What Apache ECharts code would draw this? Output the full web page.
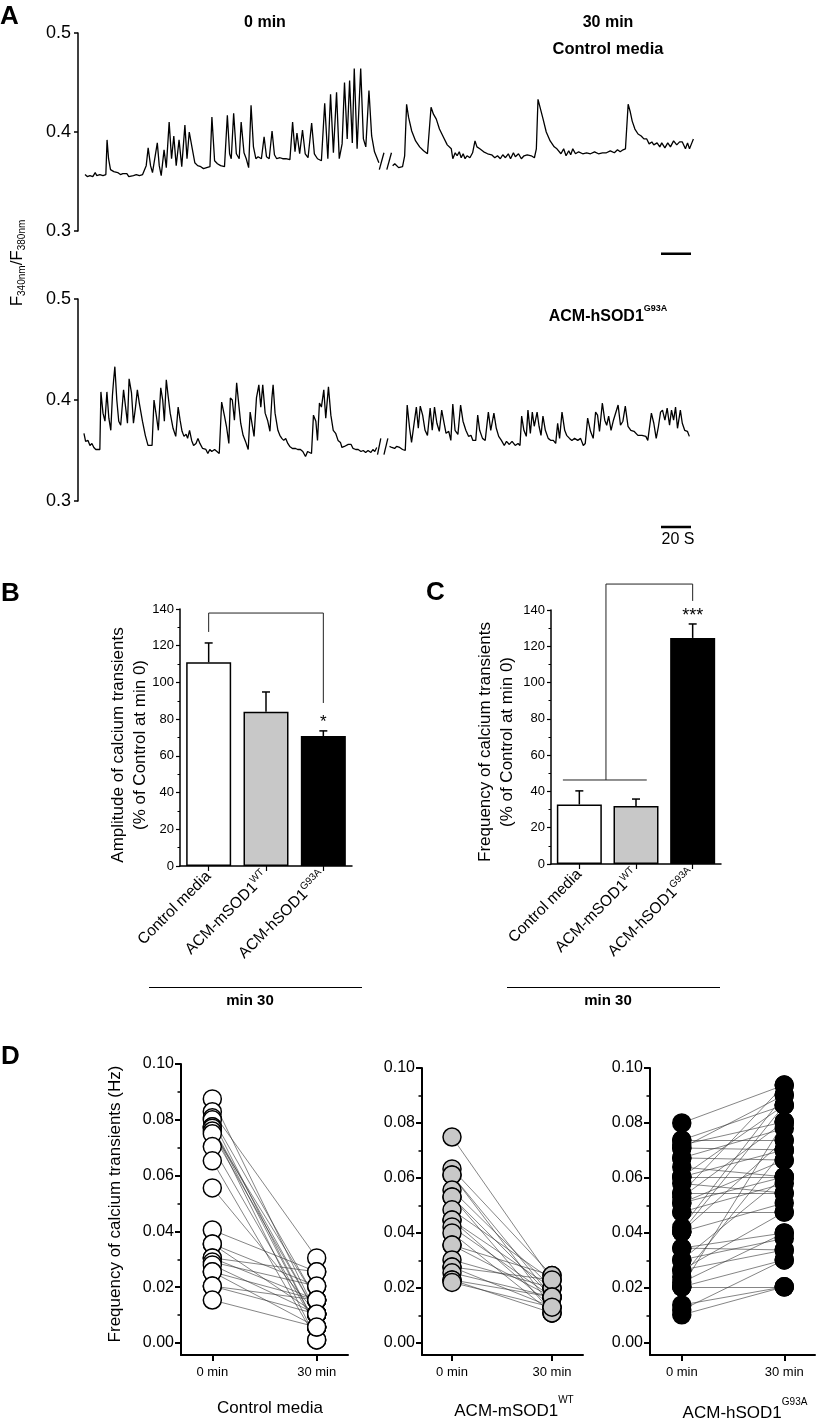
<!DOCTYPE html>
<html><head><meta charset="utf-8">
<script src="https://cdn.jsdelivr.net/npm/echarts@6/dist/echarts.min.js"></script>
<style>html,body{margin:0;padding:0;background:#fff}#c{width:817px;height:1424px}</style>
</head><body><div id="c"></div>
<script>
const F = "'Liberation Sans', Arial, Helvetica, sans-serif";

// ---------- Panel A: traces [time s, F340/F380] ----------
const topTrace0 = [[0,0.357],[1.5,0.355],[3.3,0.356],[5.2,0.355],[6.8,0.359],[7.8,0.356],[9.9,0.357],[12.0,0.356],[13.9,0.357],[14.7,0.392],[15.7,0.373],[17.0,0.362],[19.2,0.360],[21.8,0.359],[23.6,0.357],[25.2,0.358],[26.5,0.356],[27.9,0.358],[29.2,0.355],[30.5,0.357],[32.3,0.356],[34.2,0.357],[36.3,0.356],[38.4,0.357],[39.7,0.359],[40.8,0.366],[42.1,0.384],[43.7,0.366],[45.0,0.359],[46.3,0.358],[48.2,0.389],[49.5,0.366],[50.8,0.356],[52.7,0.382],[54.2,0.364],[56.1,0.410],[57.7,0.373],[59.2,0.396],[60.8,0.366],[62.7,0.392],[64.5,0.365],[66.6,0.407],[68.0,0.373],[69.5,0.400],[71.4,0.384],[73.2,0.369],[75.1,0.366],[77.2,0.365],[79.0,0.363],[81.1,0.364],[83.3,0.365],[84.6,0.415],[86.4,0.371],[88.3,0.368],[90.4,0.366],[93.0,0.365],[94.9,0.417],[96.4,0.378],[97.5,0.373],[99.1,0.419],[100.9,0.378],[102.8,0.373],[104.1,0.410],[106.0,0.379],[107.5,0.373],[109.1,0.364],[110.7,0.427],[112.3,0.385],[113.9,0.373],[115.4,0.375],[117.6,0.373],[119.4,0.395],[121.0,0.375],[122.8,0.373],[124.7,0.401],[126.3,0.377],[127.8,0.373],[130.0,0.374],[131.8,0.373],[133.9,0.373],[136.6,0.372],[138.4,0.410],[140.0,0.380],[141.3,0.399],[143.1,0.378],[145.0,0.402],[146.8,0.378],[148.7,0.374],[151.1,0.409],[152.9,0.378],[155.0,0.373],[157.6,0.371],[159.8,0.429],[161.9,0.373],[163.7,0.438],[165.6,0.379],[167.7,0.440],[169.5,0.373],[171.4,0.388],[173.0,0.450],[174.8,0.393],[176.4,0.452],[178.2,0.389],[179.5,0.464],[181.4,0.383],[183.8,0.464],[185.6,0.393],[187.2,0.385],[189.3,0.442],[191.1,0.396],[193.0,0.380],[194.6,0.374],[195.9,0.369]];
const topTrace30 = [[205.1,0.366],[206.5,0.368],[207.8,0.366],[209.1,0.364],[210.4,0.366],[211.7,0.365],[213.1,0.376],[214.4,0.428],[215.7,0.415],[217.8,0.401],[220.4,0.391],[223.1,0.385],[225.7,0.381],[228.3,0.378],[229.4,0.376],[230.7,0.425],[232.3,0.418],[234.2,0.413],[236.3,0.403],[238.9,0.395],[241.5,0.387],[244.2,0.383],[245.2,0.373],[246.8,0.379],[248.1,0.376],[249.5,0.380],[250.8,0.374],[252.1,0.378],[253.4,0.373],[254.7,0.376],[256.6,0.374],[258.4,0.379],[260.0,0.391],[261.3,0.385],[263.2,0.383],[265.8,0.380],[268.4,0.378],[271.1,0.377],[273.2,0.374],[275.0,0.376],[276.9,0.373],[278.5,0.377],[280.3,0.374],[282.2,0.378],[283.7,0.373],[285.6,0.379],[286.9,0.375],[289.0,0.378],[290.9,0.373],[292.7,0.376],[294.8,0.377],[297.5,0.376],[299.6,0.374],[300.9,0.383],[302.0,0.433],[303.3,0.432],[305.4,0.413],[307.5,0.400],[308.5,0.401],[310.1,0.391],[311.4,0.393],[312.8,0.385],[314.6,0.383],[315.9,0.384],[317.3,0.378],[319.1,0.383],[320.7,0.376],[322.5,0.381],[323.8,0.377],[325.2,0.383],[327.0,0.378],[329.1,0.380],[331.8,0.378],[334.4,0.379],[337.0,0.378],[339.7,0.380],[342.3,0.378],[345.0,0.379],[347.6,0.379],[350.2,0.381],[352.9,0.379],[355.0,0.382],[356.8,0.380],[358.7,0.382],[360.3,0.383],[362.1,0.428],[363.4,0.421],[364.8,0.411],[366.6,0.403],[368.7,0.398],[370.8,0.396],[372.6,0.393],[374.5,0.393],[376.1,0.388],[377.9,0.390],[379.2,0.387],[381.4,0.389],[383.2,0.385],[384.5,0.389],[386.6,0.384],[388.5,0.389],[390.3,0.385],[392.4,0.391],[394.5,0.387],[396.4,0.390],[398.2,0.390],[400.3,0.383],[401.7,0.389],[403.0,0.383],[404.3,0.388],[405.6,0.393]];
const botTrace0 = [[-0.7,0.367],[0.4,0.359],[2.0,0.360],[3.3,0.355],[4.6,0.357],[5.9,0.353],[7.2,0.351],[8.5,0.350],[9.9,0.351],[10.6,0.408],[12.0,0.387],[13.3,0.379],[14.6,0.408],[15.9,0.382],[17.2,0.370],[18.3,0.405],[19.1,0.420],[19.9,0.433],[21.2,0.400],[22.5,0.379],[23.8,0.375],[25.7,0.410],[27.3,0.390],[28.3,0.377],[29.4,0.421],[31.0,0.407],[32.3,0.377],[33.6,0.392],[34.9,0.410],[36.2,0.397],[38.3,0.379],[40.2,0.365],[42.0,0.355],[44.7,0.355],[46.0,0.400],[47.6,0.384],[48.9,0.370],[50.5,0.412],[51.8,0.400],[52.9,0.379],[54.2,0.420],[55.5,0.403],[56.8,0.387],[58.7,0.372],[60.5,0.364],[62.1,0.393],[63.4,0.380],[64.7,0.369],[66.0,0.364],[67.4,0.366],[68.4,0.362],[69.7,0.370],[71.1,0.360],[72.4,0.355],[74.0,0.357],[75.3,0.362],[76.6,0.357],[78.4,0.352],[80.6,0.351],[81.9,0.347],[83.2,0.351],[84.5,0.349],[86.4,0.351],[87.7,0.350],[89.5,0.347],[90.6,0.346],[91.1,0.398],[93.0,0.384],[94.3,0.374],[95.9,0.357],[96.9,0.402],[98.2,0.400],[99.6,0.380],[101.1,0.417],[102.7,0.393],[103.8,0.377],[105.4,0.365],[107.0,0.359],[108.8,0.351],[110.1,0.388],[111.4,0.388],[112.7,0.364],[114.3,0.402],[115.9,0.415],[117.2,0.393],[118.5,0.415],[120.1,0.387],[121.7,0.380],[123.3,0.369],[124.6,0.402],[125.4,0.415],[126.7,0.387],[128.6,0.370],[129.9,0.365],[131.2,0.362],[132.5,0.360],[133.8,0.362],[135.2,0.357],[136.5,0.354],[138.3,0.352],[140.4,0.352],[141.8,0.351],[143.6,0.351],[145.2,0.349],[147.0,0.344],[148.4,0.349],[149.7,0.348],[151.0,0.347],[152.3,0.385],[153.9,0.379],[155.0,0.360],[156.3,0.397],[157.6,0.393],[159.2,0.410],[160.5,0.382],[162.3,0.413],[163.9,0.385],[165.5,0.370],[167.1,0.367],[168.7,0.360],[170.3,0.358],[171.3,0.353],[172.9,0.354],[174.0,0.353],[175.5,0.356],[177.4,0.356],[178.7,0.352],[180.5,0.351],[182.1,0.351],[184.0,0.349],[185.5,0.350],[187.1,0.348],[188.7,0.350],[190.6,0.348],[191.9,0.351],[193.2,0.349],[194.5,0.353]];
const botTrace30 = [[203.0,0.354],[204.5,0.353],[206.4,0.352],[207.7,0.354],[209.8,0.353],[211.7,0.351],[213.5,0.350],[214.8,0.395],[216.4,0.372],[217.7,0.358],[219.6,0.379],[220.9,0.393],[222.2,0.372],[223.5,0.394],[225.1,0.385],[226.7,0.370],[228.3,0.365],[230.1,0.392],[231.5,0.370],[233.0,0.393],[234.6,0.377],[236.2,0.369],[237.8,0.390],[239.4,0.377],[240.7,0.367],[242.5,0.369],[243.9,0.360],[245.2,0.396],[246.7,0.370],[248.6,0.366],[250.4,0.395],[252.0,0.379],[253.9,0.370],[255.7,0.364],[257.3,0.365],[258.6,0.360],[260.5,0.360],[261.8,0.385],[263.1,0.370],[265.0,0.362],[266.8,0.360],[268.9,0.388],[270.5,0.370],[271.3,0.370],[272.6,0.387],[274.2,0.372],[275.8,0.364],[277.6,0.360],[279.5,0.355],[281.0,0.359],[282.9,0.356],[284.7,0.359],[286.8,0.355],[288.7,0.357],[290.0,0.355],[291.1,0.384],[292.6,0.370],[294.2,0.364],[295.3,0.390],[296.9,0.367],[298.2,0.388],[299.5,0.374],[301.4,0.388],[302.7,0.374],[304.0,0.365],[305.3,0.384],[306.9,0.370],[308.8,0.362],[310.6,0.360],[312.2,0.360],[313.8,0.357],[315.1,0.377],[316.4,0.362],[318.0,0.388],[319.8,0.370],[321.1,0.365],[323.0,0.362],[324.6,0.360],[326.4,0.362],[328.5,0.360],[330.4,0.362],[332.2,0.355],[333.5,0.357],[335.1,0.382],[337.0,0.369],[338.8,0.362],[340.4,0.388],[341.7,0.385],[343.0,0.369],[344.9,0.397],[346.5,0.380],[347.8,0.375],[349.1,0.384],[350.7,0.370],[352.3,0.380],[353.6,0.379],[355.4,0.395],[357.0,0.375],[358.6,0.379],[360.2,0.394],[362.0,0.374],[363.9,0.370],[366.0,0.369],[368.6,0.365],[371.3,0.365],[373.9,0.364],[375.2,0.360],[376.5,0.359],[377.6,0.387],[379.2,0.377],[380.8,0.362],[382.3,0.374],[383.7,0.388],[385.0,0.390],[386.6,0.380],[388.1,0.392],[389.7,0.375],[391.0,0.390],[392.4,0.380],[393.7,0.393],[395.0,0.372],[396.9,0.390],[398.2,0.377],[399.8,0.370],[401.6,0.369],[402.9,0.364]];
const topBreaks = [[[196.2,0.362],[199.3,0.379]],[[201.2,0.362],[204.3,0.379]]];
const botBreaks = [[[195.0,0.346],[197.2,0.362]],[[199.3,0.346],[201.9,0.362]]];
const scaleBarT = [384, 404];
const topScaleV = 0.277, botScaleV = 0.2743;
const aTicks = [0.3, 0.4, 0.5];

// ---------- Panels B, C ----------
const catLabels = ['Control media', 'ACM-mSOD1', 'ACM-hSOD1'];
const catSup = ['', 'WT', 'G93A'];
const barColors = ['#ffffff', '#c8c8c8', '#000000'];
const ampMean = [111, 84, 70.8];
const ampSem = [10.5, 10.8, 2.8];
const freqMean = [32.8, 32, 124.6];
const freqSem = [7.5, 3.8, 7.7];
const ampBracket = [[0,127.5],[0,137.8],[2,137.8],[2,88.8]];
const freqBracketLow = [[-0.29,46.3],[1.19,46.3]];
const freqBracket = [[0.47,46.3],[0.47,154.3],[2,154.3],[2,145]];

// ---------- Panel D: paired [0 min, 30 min] frequencies (Hz) ----------
const timeLabels = ['0 min', '30 min'];
const dMajor = [0, 0.02, 0.04, 0.06, 0.08, 0.1];
const dMinor = [0.01, 0.03, 0.05, 0.07, 0.09];
const ctrlPairs = [[0.0875,0.0104],[0.0829,0.0305],[0.0807,0.0154],[0.0800,0.0057],[0.0775,0.0104],[0.0775,0.0057],[0.0770,0.0011],[0.0760,0.0154],[0.0750,0.0104],[0.0704,0.0057],[0.0653,0.0011],[0.0556,0.0104],[0.0405,0.0255],[0.0355,0.0204],[0.0355,0.0104],[0.0305,0.0255],[0.0305,0.0154],[0.0290,0.0204],[0.0280,0.0104],[0.0255,0.0154],[0.0255,0.0057],[0.0204,0.0154],[0.0204,0.0104],[0.0154,0.0057]];
const wtPairs = [[0.0749,0.0229],[0.0633,0.0245],[0.0611,0.0167],[0.0611,0.0130],[0.0556,0.0200],[0.0531,0.0167],[0.0531,0.0109],[0.0484,0.0229],[0.0447,0.0200],[0.0447,0.0130],[0.0422,0.0167],[0.0400,0.0109],[0.0356,0.0245],[0.0356,0.0167],[0.0302,0.0200],[0.0276,0.0130],[0.0276,0.0229],[0.0255,0.0167],[0.0229,0.0109],[0.0229,0.0167],[0.0220,0.0130]];
const g93aPairs = [[0.0800,0.0938],[0.0738,0.0865],[0.0738,0.0738],[0.0720,0.0804],[0.0709,0.0702],[0.0709,0.0902],[0.0673,0.0665],[0.0673,0.0780],[0.0640,0.0604],[0.0604,0.0604],[0.0604,0.0865],[0.0604,0.0702],[0.0580,0.0545],[0.0545,0.0938],[0.0545,0.0545],[0.0530,0.0804],[0.0509,0.0604],[0.0509,0.0665],[0.0476,0.0476],[0.0476,0.0580],[0.0420,0.0902],[0.0404,0.0738],[0.0404,0.0865],[0.0404,0.0509],[0.0345,0.0338],[0.0345,0.0400],[0.0302,0.0380],[0.0302,0.0604],[0.0265,0.0476],[0.0265,0.0338],[0.0240,0.0702],[0.0220,0.0400],[0.0204,0.0204],[0.0204,0.0302],[0.0204,0.0804],[0.0138,0.0204],[0.0102,0.0204],[0.0120,0.0302]];

// ---------- builders ----------
const BLK = '#000';
function traceX(g){ return {gridIndex:g, type:'value', min:-4.67, max:406, show:false}; }
function traceY(g){ return {gridIndex:g, type:'value', min:0.3, max:0.5,
  axisLine:{show:true, onZero:false, lineStyle:{color:BLK, width:1.5}},
  axisTick:{show:true, customValues:aTicks, length:4, lineStyle:{color:BLK, width:1.5}},
  axisLabel:{customValues:aTicks, formatter:v=>v.toFixed(1), fontSize:18, color:BLK, fontFamily:F, margin:7},
  splitLine:{show:false}}; }
const catRich = {
  n:{fontSize:15.5, color:BLK, fontFamily:F, lineHeight:20},
  s:{fontSize:10, color:BLK, fontFamily:F, lineHeight:11, verticalAlign:'top'}
};
function catFmt(v){ const i = Math.round(v); return '{n|' + catLabels[i] + '}' + (catSup[i] ? '{s|' + catSup[i] + '}' : ''); }
function barX(g){ return {gridIndex:g, type:'value', min:-0.5, max:2.5,
  axisLine:{show:true, onZero:false, lineStyle:{color:BLK, width:1.5}},
  axisTick:{show:true, customValues:[0,1,2], length:5, lineStyle:{color:BLK, width:1.2}},
  axisLabel:{customValues:[0,1,2], rotate:45, margin:8, formatter:catFmt, rich:catRich, fontSize:15.5, color:BLK, fontFamily:F},
  splitLine:{show:false}}; }
function barY(g){ return {gridIndex:g, type:'value', min:0, max:140, interval:20,
  axisLine:{show:true, onZero:false, lineStyle:{color:BLK, width:1.5}},
  axisTick:{show:true, length:4, lineStyle:{color:BLK, width:1.2}},
  minorTick:{show:true, splitNumber:2, length:2.5, lineStyle:{color:BLK, width:1}},
  axisLabel:{fontSize:13, color:BLK, fontFamily:F, margin:6},
  splitLine:{show:false}, minorSplitLine:{show:false}}; }
function dX(g, min, max){ return {gridIndex:g, type:'value', min, max,
  axisLine:{show:true, onZero:false, lineStyle:{color:BLK, width:2}},
  axisTick:{show:true, customValues:[0,1], length:6, lineStyle:{color:BLK, width:2}},
  axisLabel:{customValues:[0,1], formatter:v=>timeLabels[Math.round(v)], fontSize:13, color:BLK, fontFamily:F, margin:11},
  splitLine:{show:false}}; }
function dY(g, min){ return {gridIndex:g, type:'value', min, max:0.1, position:'left',
  axisLine:{show:true, onZero:false, lineStyle:{color:BLK, width:2}},
  axisTick:{show:true, customValues:dMajor, length:6, lineStyle:{color:BLK, width:2}},
  axisLabel:{customValues:dMajor, formatter:v=>v.toFixed(2), fontSize:16, color:BLK, fontFamily:F, margin:7},
  splitLine:{show:false}}; }
function dYminor(g, min){ return {gridIndex:g, type:'value', min, max:0.1, position:'left', offset:0,
  axisLine:{show:false, onZero:false},
  axisTick:{show:true, customValues:dMinor, length:3.5, lineStyle:{color:BLK, width:1.5}},
  axisLabel:{show:false}, splitLine:{show:false}}; }

function traceSeries(xi, yi, data, w){ return {type:'line', xAxisIndex:xi, yAxisIndex:yi, data, symbol:'none', silent:true, clip:false,
  lineStyle:{color:BLK, width:w||1.3}}; }
function barSeries(xi, yi, means){ return {type:'bar', xAxisIndex:xi, yAxisIndex:yi, barWidth:45, silent:true,
  data: means.map((m,i)=>({value:[i,m], itemStyle:{color:barColors[i], borderColor:BLK, borderWidth:1.5}}))}; }
function errSeries(xi, yi, means, sems){ return {type:'custom', xAxisIndex:xi, yAxisIndex:yi, silent:true, z:3,
  data: means.map((m,i)=>[i, m, m + sems[i]]),
  renderItem(params, api){
    const x = api.value(0);
    const p0 = api.coord([x, api.value(1)]), p1 = api.coord([x, api.value(2)]);
    return {type:'group', children:[
      {type:'line', shape:{x1:p0[0], y1:p0[1], x2:p1[0], y2:p1[1]}, style:{stroke:BLK, lineWidth:1.5}},
      {type:'line', shape:{x1:p1[0]-4, y1:p1[1], x2:p1[0]+4, y2:p1[1]}, style:{stroke:BLK, lineWidth:1.5}}
    ]};
  }}; }
// significance marks drawn as text at data coordinates via a custom series
function starSeries(xi, yi, pos, text, size){ return {type:'custom', xAxisIndex:xi, yAxisIndex:yi, silent:true, z:5, clip:false,
  data:[pos],
  renderItem(params, api){
    const p = api.coord([api.value(0), api.value(1)]);
    return {type:'text', x:p[0], y:p[1], style:{text, fill:BLK, fontSize:size, fontFamily:F, align:'center', verticalAlign:'middle'}};
  }}; }
function dLines(xi, yi, pairs){ return {type:'lines', coordinateSystem:'cartesian2d', xAxisIndex:xi, yAxisIndex:yi, z:1, silent:true,
  lineStyle:{color:'#333', width:0.6, opacity:1},
  data: pairs.map(p=>({coords:[[0,p[0]],[1,p[1]]]}))}; }
function dDots(xi, yi, pairs, fill){ const pts = [];
  pairs.forEach(p=>{ pts.push([0,p[0]]); pts.push([1,p[1]]); });
  return {type:'scatter', xAxisIndex:xi, yAxisIndex:yi, z:3, silent:true, clip:false, symbol:'circle', symbolSize:18,
    itemStyle:{color:fill, borderColor:BLK, borderWidth:1.5, opacity:1}, data:pts}; }

const series = [
  traceSeries(0,0,topTrace0), traceSeries(0,0,topTrace30),
  traceSeries(1,1,botTrace0), traceSeries(1,1,botTrace30),
  ...topBreaks.map(b=>traceSeries(0,0,b)), ...botBreaks.map(b=>traceSeries(1,1,b)),
  traceSeries(0,0,[[scaleBarT[0],topScaleV],[scaleBarT[1],topScaleV]],2.5),
  traceSeries(1,1,[[scaleBarT[0],botScaleV],[scaleBarT[1],botScaleV]],2.5),
  barSeries(2,2,ampMean), errSeries(2,2,ampMean,ampSem),
  {type:'line', xAxisIndex:2, yAxisIndex:2, data:ampBracket, symbol:'none', silent:true, clip:false, lineStyle:{color:'#222', width:1}},
  starSeries(2,2,[2,78.5],'*',17),
  barSeries(3,3,freqMean), errSeries(3,3,freqMean,freqSem),
  {type:'line', xAxisIndex:3, yAxisIndex:3, data:freqBracketLow, symbol:'none', silent:true, clip:false, lineStyle:{color:'#222', width:1}},
  {type:'line', xAxisIndex:3, yAxisIndex:3, data:freqBracket, symbol:'none', silent:true, clip:false, lineStyle:{color:'#222', width:1}},
  starSeries(3,3,[2,136.7],'***',18),
  dLines(4,4,ctrlPairs), dDots(4,4,ctrlPairs,'#ffffff'),
  dLines(5,6,wtPairs), dDots(5,6,wtPairs,'#c8c8c8'),
  dLines(6,8,g93aPairs), dDots(6,8,g93aPairs,'#000000')
];

function T(x, y, text, style, extra){ return Object.assign({type:'text', x, y, silent:true, z:10,
  style:Object.assign({text, fill:BLK, fontFamily:F, fontSize:15, align:'center', verticalAlign:'middle'}, style||{})}, extra||{}); }
const supRich = (n, s, nl, sl, bold) => ({
  n:{fontSize:n, fontFamily:F, fill:BLK, lineHeight:nl, fontWeight:bold?'bold':'normal'},
  s:{fontSize:s, fontFamily:F, fill:BLK, lineHeight:sl, verticalAlign:'top', fontWeight:bold?'bold':'normal'}
});
const graphics = [
  T(0, 17, 'A', {fontSize:26, fontWeight:'bold', align:'left'}),
  T(1, 594, 'B', {fontSize:26, fontWeight:'bold', align:'left'}),
  T(426, 593, 'C', {fontSize:26, fontWeight:'bold', align:'left'}),
  T(1, 1057, 'D', {fontSize:26, fontWeight:'bold', align:'left'}),
  T(265, 23, '0 min', {fontWeight:'bold', fontSize:16}),
  T(608, 23, '30 min', {fontWeight:'bold', fontSize:16}),
  T(608, 49, 'Control media', {fontWeight:'bold', fontSize:16.5}),
  T(608, 317, '{n|ACM-hSOD1}{s|G93A}', {rich:supRich(16, 9, 26, 12, true)}),
  T(17, 263, '{b|F}{s|340nm}{b|/F}{s|380nm}', {rich:{
      b:{fontSize:17, fontFamily:F, fill:BLK, lineHeight:20},
      s:{fontSize:10, fontFamily:F, fill:BLK, lineHeight:10, verticalAlign:'bottom'}}}, {rotation:Math.PI/2}),
  T(678, 540, '20 S', {fontSize:16}),
  T(129, 745, 'Amplitude of calcium transients\n(% of Control at min 0)', {fontSize:17, lineHeight:22}, {rotation:Math.PI/2}),
  T(496, 742, 'Frequency of calcium transients\n(% of Control at min 0)', {fontSize:17, lineHeight:22}, {rotation:Math.PI/2}),
  T(115, 1204, 'Frequency of calcium transients (Hz)', {fontSize:17}, {rotation:Math.PI/2}),
  {type:'line', silent:true, shape:{x1:149, y1:987.5, x2:362, y2:987.5}, style:{stroke:BLK, lineWidth:1}},
  {type:'line', silent:true, shape:{x1:507, y1:987.5, x2:720, y2:987.5}, style:{stroke:BLK, lineWidth:1}},
  T(250, 1001, 'min 30', {fontWeight:'bold'}),
  T(608, 1001, 'min 30', {fontWeight:'bold'}),
  T(270, 1408, 'Control media', {fontSize:17}),
  T(514, 1411, '{n|ACM-mSOD1}{s|WT}', {rich:supRich(17, 10, 32, 12, false)}),
  T(745, 1413, '{n|ACM-hSOD1}{s|G93A}', {rich:supRich(17, 10, 32, 12, false)})
];

const option = {
  animation:false,
  textStyle:{fontFamily:F},
  grid:[
    {left:78, top:33, width:616, height:198},
    {left:78, top:299, width:616, height:202},
    {left:180, top:609, width:172, height:257},
    {left:551, top:610, width:170, height:254},
    {left:181, top:1064, width:167, height:291},
    {left:422, top:1068, width:161, height:287},
    {left:650, top:1068, width:165, height:287}
  ],
  xAxis:[traceX(0), traceX(1), barX(2), barX(3), dX(4,-0.3,1.3), dX(5,-0.3,1.31), dX(6,-0.31,1.3)],
  yAxis:[traceY(0), traceY(1), barY(2), barY(3),
         dY(4,-0.0043), dYminor(4,-0.0043), dY(5,-0.0044), dYminor(5,-0.0044), dY(6,-0.0044), dYminor(6,-0.0044)],
  series,
  graphic:graphics
};
const chart = echarts.init(document.getElementById('c'));
chart.setOption(option);
</script></body></html>
